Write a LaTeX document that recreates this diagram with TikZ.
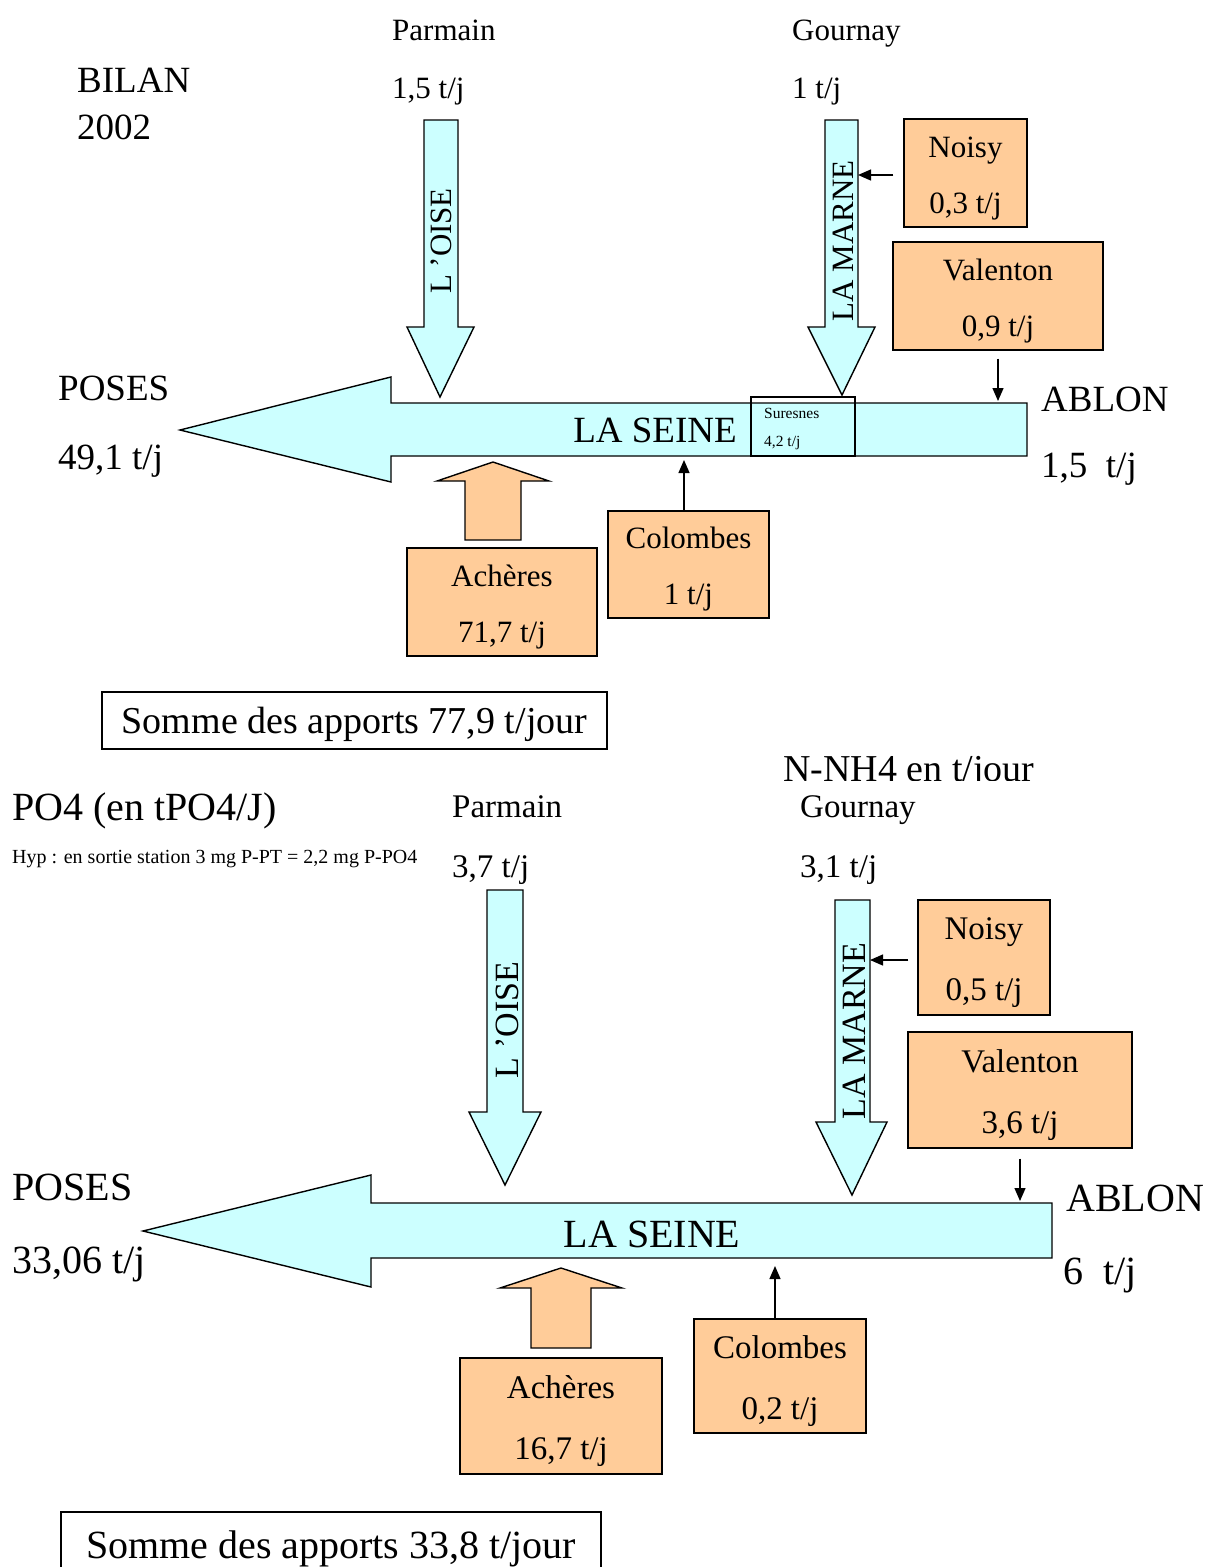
\documentclass[tikz,border=0pt]{standalone}
\usepackage{fontspec}
\setmainfont{Liberation Serif}
\usetikzlibrary{arrows.meta}
\definecolor{rivc}{HTML}{CCFFFF}
\definecolor{stac}{HTML}{FFCC99}
\newcommand\myfs[2]{\fontsize{#1}{#2}\selectfont}
\newcommand\upA{\rule{0pt}{31pt}}
\newcommand\upB{\rule{0pt}{32pt}}
\begin{document}
\begin{tikzpicture}[x=1pt,y=-1pt,
  riv/.style={draw=black,fill=rivc,line width=1.4pt,line join=miter},
  upar/.style={draw=black,fill=stac,line width=1.4pt,line join=miter},
  stabox/.style={draw=black,fill=stac,line width=1.4pt,inner sep=0pt,align=center},
  lab/.style={inner sep=0pt,anchor=mid west},
  tipline/.style={line width=1.3pt,-{Triangle[length=13pt,width=11pt]}},
  sumbox/.style={draw=black,line width=1.3pt,inner sep=0pt,fill=white}
]
\useasboundingbox (0,0) rectangle (1207,1567);

% ================= TOP =================
\node[lab,font=\myfs{31}{31}] (parm1) at (392,38) {Parmain};
\node[lab,font=\myfs{31}{31}] (parmv1) at (392,96) {1,5 t/j};
\node[lab,font=\myfs{31}{31}] (gour1) at (792,38) {Gournay};
\node[lab,font=\myfs{31}{31}] (gourv1) at (792,96) {1 t/j};
\node[lab,font=\myfs{37}{37}] (bilan) at (77,90) {BILAN};
\node[lab,font=\myfs{37}{37}] (year) at (77,137) {2002};

\draw[riv] (391,403) -- (391,377) -- (180,430) -- (391,482) -- (391,456) -- (1027,456) -- (1027,403) -- cycle;
\node[draw=black,line width=1.3pt,minimum width=104pt,minimum height=59pt,inner sep=0pt] (sur1) at (803,426.5) {};
\node[lab,font=\myfs{15.5}{15.5}] (surt1) at (764,416) {Suresnes};
\node[lab,font=\myfs{15.5}{15.5}] (surv1) at (764,444) {4,2 t/j};
\draw[riv] (424,120) -- (458,120) -- (458,327) -- (474,327) -- (440,397) -- (407,327) -- (424,327) -- cycle;
\draw[riv] (825,120) -- (858,120) -- (858,327) -- (875,327) -- (842,395) -- (808,327) -- (825,327) -- cycle;
\node[font=\myfs{31}{31},rotate=90,inner sep=0pt] (oise1) at (441,241) {L ’OISE};
\node[font=\myfs{31}{31},rotate=90,inner sep=0pt] (marne1) at (843,241) {LA MARNE};
\node[font=\myfs{37}{37},inner sep=0pt] (seine1) at (655,430) {LA SEINE};

\node[lab,font=\myfs{37}{37}] (poses1) at (58,398) {POSES};
\node[lab,font=\myfs{37}{37}] (posesv1) at (58,467) {49,1 t/j};
\node[lab,font=\myfs{37}{37}] (ablon1) at (1041,409) {ABLON};
\node[lab,font=\myfs{37}{37}] (ablonv1) at (1041,475) {1,5~~t/j};

\node[stabox,minimum width=123pt,minimum height=108pt,font=\myfs{31}{56}] (noisy1) at (965.5,173) {\upA Noisy\\0,3 t/j};
\coordinate (mn1) at (858,175);
\draw[tipline] ([xshift=-10pt]noisy1.west |- mn1) -- (mn1);
\node[stabox,minimum width=210pt,minimum height=108pt,font=\myfs{31}{56}] (valen1) at (998,296) {\upA Valenton\\0,9 t/j};
\coordinate (ab1) at (998,401);
\draw[tipline] ([yshift=-8pt]valen1.south) -- (ab1);

\draw[upar] (465,540) -- (465,481) -- (437,481) -- (493,462) -- (549,481) -- (521,481) -- (521,540) -- cycle;
\node[stabox,minimum width=190pt,minimum height=108pt,font=\myfs{31}{56}] (ach1) at (502,602) {\upA Achères\\71,7 t/j};
\node[stabox,minimum width=161pt,minimum height=107pt,font=\myfs{31}{56}] (col1) at (688.5,564.5) {\upA Colombes\\1 t/j};
\coordinate (sc1) at (684,460);
\draw[tipline] (col1.north -| sc1) -- (sc1);

\node[sumbox,minimum width=505pt,minimum height=57pt,font=\myfs{38}{38}] (sum1) at (354.5,720.5) {\rule{0pt}{35pt}Somme des apports 77,9 t/jour};

% ================= BOTTOM =================
\begin{scope}
\clip (700,740) rectangle (1100,780);
\node[inner sep=0pt,anchor=base west,font=\myfs{38}{38}] (nnh4) at (783,781) {N-NH4 en t/jour};
\end{scope}
\node[lab,font=\myfs{40}{40}] (po4) at (12,818) {PO4 (en tPO4/J)};
\node[lab,font=\myfs{20}{20}] (hyp) at (12,861) {Hyp : en sortie station 3 mg P-PT = 2,2 mg P-PO4};
\node[lab,font=\myfs{33}{33}] (parm2) at (452,815) {Parmain};
\node[lab,font=\myfs{33}{33}] (parmv2) at (452,875) {3,7 t/j};
\node[lab,font=\myfs{33}{33}] (gour2) at (800,815) {Gournay};
\node[lab,font=\myfs{33}{33}] (gourv2) at (800,875) {3,1 t/j};

\draw[riv] (371,1203) -- (371,1175) -- (143,1231) -- (371,1287) -- (371,1258) -- (1052,1258) -- (1052,1203) -- cycle;
\draw[riv] (487,890) -- (523,890) -- (523,1112) -- (541,1112) -- (505,1185) -- (469,1112) -- (487,1112) -- cycle;
\draw[riv] (835,900) -- (870,900) -- (870,1122) -- (887,1122) -- (852,1195) -- (816,1122) -- (835,1122) -- cycle;
\node[font=\myfs{34}{34},rotate=90,inner sep=0pt] (oise2) at (507,1020) {L ’OISE};
\node[font=\myfs{34}{34},rotate=90,inner sep=0pt] (marne2) at (854,1031) {LA MARNE};
\node[font=\myfs{40}{40},inner sep=0pt] (seine2) at (652,1234) {LA SEINE};

\node[lab,font=\myfs{40}{40}] (poses2) at (12,1198) {POSES};
\node[lab,font=\myfs{40}{40}] (posesv2) at (12,1271) {33,06 t/j};
\node[lab,font=\myfs{40}{40}] (ablon2) at (1066,1209) {ABLON};
\node[lab,font=\myfs{40}{40}] (ablonv2) at (1063,1282) {6~~t/j};

\node[stabox,minimum width=132pt,minimum height=115pt,font=\myfs{33}{61}] (noisy2) at (984,957.5) {\upB Noisy\\0,5 t/j};
\coordinate (mn2) at (870,960);
\draw[tipline] ([xshift=-9pt]noisy2.west |- mn2) -- (mn2);
\node[stabox,minimum width=224pt,minimum height=116pt,font=\myfs{33}{61}] (valen2) at (1020,1090) {\upB Valenton\\3,6 t/j};
\coordinate (ab2) at (1020,1201);
\draw[tipline] ([yshift=-10pt]valen2.south) -- (ab2);

\draw[upar] (531,1348) -- (531,1288) -- (500,1288) -- (561,1268) -- (622,1288) -- (591,1288) -- (591,1348) -- cycle;
\node[stabox,minimum width=202pt,minimum height=116pt,font=\myfs{33}{61}] (ach2) at (561,1416) {\upB Achères\\16,7 t/j};
\node[stabox,minimum width=172pt,minimum height=114pt,font=\myfs{33}{61}] (col2) at (780,1376) {\upB Colombes\\0,2 t/j};
\coordinate (sc2) at (775,1266);
\draw[tipline] (col2.north -| sc2) -- (sc2);

\node[sumbox,minimum width=540pt,minimum height=66pt,font=\myfs{40}{40}] (sum2) at (331,1545) {\rule{0pt}{35pt}Somme des apports 33,8 t/jour};
\end{tikzpicture}
\end{document}
